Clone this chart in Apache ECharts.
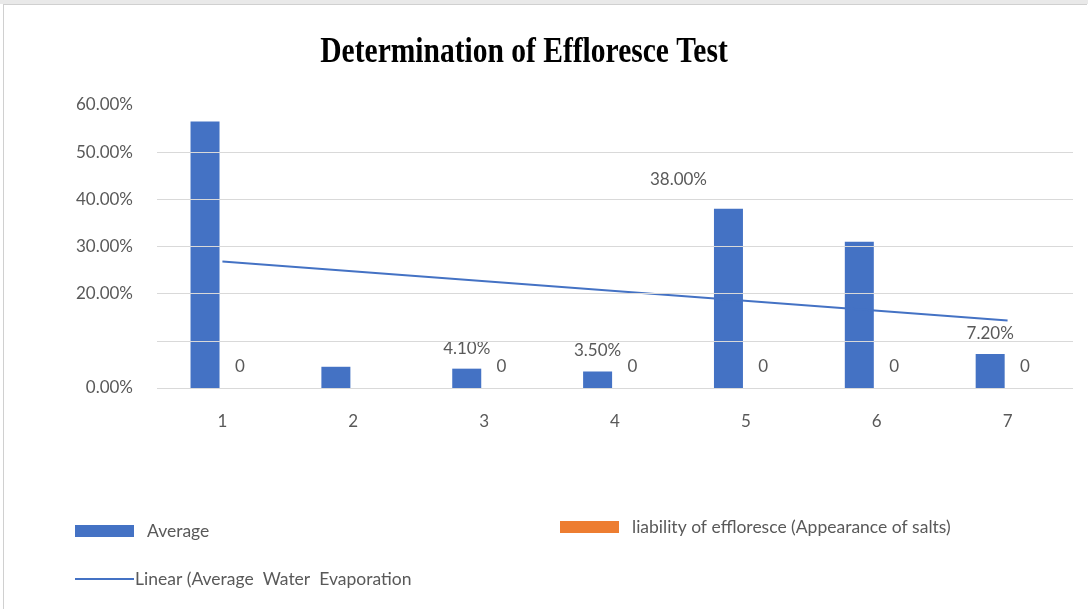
<!DOCTYPE html>
<html><head><meta charset="utf-8">
<script src="https://cdn.jsdelivr.net/npm/echarts@6/dist/echarts.min.js"></script>
<style>
html,body{margin:0;padding:0;background:#fff;}
#top{position:absolute;left:0;top:0;width:1088px;height:4px;background:#e9e9e9;}
#frame{position:absolute;left:3px;top:4px;width:1084px;height:605px;border-left:1px solid #d0d0d0;border-top:1px solid #d0d0d0;box-sizing:border-box;}
#c{position:absolute;left:0;top:0;width:1088px;height:609px;}
</style></head>
<body>
<div id="top"></div><div id="frame"></div>
<div id="c"></div>
<script>
const categories = ['1','2','3','4','5','6','7'];
const averageValues = [56.5, 4.5, 4.1, 3.5, 38.0, 31.0, 7.2];
const liabilityValues = [0, 0, 0, 0, 0, 0, 0];
const trendStart = 26.8;   // trend value at category 1
const trendEnd = 14.3;     // trend value at category 7
const gridValues = [0, 10, 20, 30, 40, 50];
const hiddenTickLabels = [10];
const averageLabelShown = [false, false, true, true, true, false, true];
const liabilityLabelShown = [true, false, true, true, true, true, true];

const nameAvg = 'Average';
const nameLiab = 'liability of effloresce (Appearance of salts)';
const nameTrend = 'Linear (Average  Water  Evaporation';
const titleText = 'Determination of Effloresce Test';

const font = 'Lato, "Open Sans", sans-serif';
const gray = '#595959';

const trendData = categories.map((c, i) => i === 0 ? trendStart : (i === categories.length - 1 ? trendEnd : null));

const avgData = averageValues.map((v, i) => {
  const item = { value: v, label: { show: averageLabelShown[i] } };
  if (i === 4) item.label.offset = [-50, -9];
  return item;
});
const liabData = liabilityValues.map((v, i) => ({ value: v, label: { show: liabilityLabelShown[i] } }));

const chart = echarts.init(document.getElementById('c'), null, { renderer: 'canvas' });
chart.setOption({
  animation: false,
  backgroundColor: 'transparent',
  graphic: [{
    type: 'text', x: 524, y: 53, scaleX: 0.82, scaleY: 1,
    style: { text: titleText, fontFamily: '"Liberation Serif", serif', fontWeight: 'bold', fontSize: 36,
      fill: '#000', align: 'center', verticalAlign: 'middle' }
  }],
  legend: [
    { data: [{ name: nameAvg, icon: 'rect' }], left: 75, top: 522, itemWidth: 59, itemHeight: 12, padding: 0,
      textStyle: { fontFamily: font, fontSize: 17.5, color: gray, padding: [6, 0, 0, 8] } },
    { data: [{ name: nameLiab, icon: 'rect' }], left: 560, top: 518, itemWidth: 59, itemHeight: 12, padding: 0,
      textStyle: { fontFamily: font, fontSize: 17.5, color: gray, padding: [0, 0, 0, 8] } },
    { data: [{ name: nameTrend, icon: 'rect' }], left: 75, top: 570, itemWidth: 59, itemHeight: 2, padding: 0,
      textStyle: { fontFamily: font, fontSize: 17.5, color: gray, padding: [4, 0, 0, -4] } }
  ],
  grid: { left: 157, right: 15, top: 105, bottom: 221, containLabel: false },
  xAxis: {
    type: 'category', data: categories,
    axisLine: { show: false }, axisTick: { show: false },
    axisLabel: { fontFamily: font, fontSize: 17, color: gray, margin: 25 }
  },
  yAxis: {
    type: 'value', min: 0, max: 60, interval: 10,
    splitLine: { show: false }, axisLine: { show: false }, axisTick: { show: false },
    axisLabel: {
      fontFamily: font, fontSize: 17, color: gray, margin: 24,
      formatter: v => hiddenTickLabels.includes(v) ? '' : v.toFixed(2) + '%'
    }
  },
  series: [
    {
      name: nameAvg, type: 'bar', data: avgData, barWidth: 29, barGap: '20%', z: 3,
      itemStyle: { color: '#4472c4' },
      label: { position: 'top', distance: 12, fontFamily: font, fontSize: 17, color: gray,
        formatter: p => p.value.toFixed(2) + '%' }
    },
    {
      name: nameLiab, type: 'bar', data: liabData, barWidth: 29, z: 1,
      itemStyle: { color: '#ed7d31' },
      label: { position: 'top', distance: 13, fontFamily: font, fontSize: 17, color: gray,
        formatter: p => String(p.value) },
      markLine: {
        silent: true, symbol: 'none', label: { show: false },
        lineStyle: { color: '#d9d9d9', type: 'solid', width: 1 },
        data: gridValues.map(v => ({ yAxis: v }))
      }
    },
    {
      name: nameTrend, type: 'line', data: trendData, connectNulls: true, symbol: 'none', z: 4,
      lineStyle: { color: '#4472c4', width: 2 }, itemStyle: { color: '#4472c4' }
    }
  ]
});
</script>
</body></html>
